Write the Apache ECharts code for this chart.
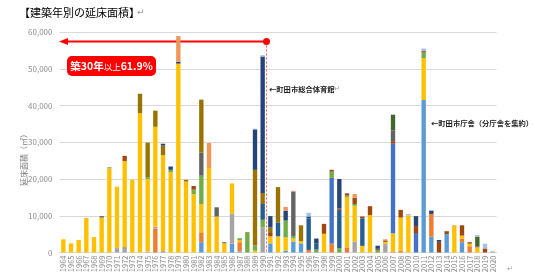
<!DOCTYPE html>
<html><head><meta charset="utf-8">
<script src="https://cdn.jsdelivr.net/npm/echarts@6/dist/echarts.min.js"></script>
<style>html,body{margin:0;padding:0;background:#fff}#c{width:535px;height:277px}</style>
</head><body><div id="c"></div>
<script>
const years = ['1964','1965','1966','1967','1968','1969','1970','1971','1972','1973','1974','1975','1976','1977','1978','1979','1980','1981','1982','1983','1984','1985','1986','1987','1988','1989','1990','1991','1992','1993','1994','1995','1996','1997','1998','1999','2000','2001','2002','2003','2004','2005','2006','2007','2008','2009','2010','2011','2012','2013','2014','2015','2016','2017','2018','2019','2020'];
const yTicks = [0,10000,20000,30000,40000,50000,60000];

const sLightBlue = [0,0,0,0,0,0,0,0,0,0, 0,0,0,0,0,0,0,0,2800,0, 0,0,2400,300,0,0,0,2500,0,500, 3000,2500,0,0,0,0,0,0,0,0, 0,0,0,0,0,0,0,41500,4300,0, 5000,0,2800,0,0,0,0];
const sOrange = [0,0,0,0,0,0,0,0,0,0, 0,0,6500,0,0,0,0,0,2700,0, 0,0,0,2500,0,0,0,0,0,0, 0,0,700,0,0,2400,0,1400,0,0, 0,0,0,300,500,0,0,0,6200,0, 0,0,1000,1700,0,0,0];
const sGray = [0,0,0,0,0,0,0,1200,1500,0, 0,300,500,400,0,0,0,0,0,0, 0,0,8200,0,0,0,6900,0,0,0, 0,0,0,0,0,0,0,0,3000,0, 0,0,2300,0,0,0,0,0,0,0, 0,0,0,0,0,0,300];
const sYellow = [3600,2500,3400,9400,4200,9500,22900,16700,23400,19800, 37900,19700,27200,26100,21900,51400,19300,15900,7700,23000, 9800,2500,8200,600,0,500,0,1900,4400,3600, 800,600,0,0,5100,0,0,13700,9700,1800, 10200,0,600,4900,9000,10100,0,11400,0,0, 0,7200,800,700,1400,0,0];
const sBlue = [0,0,0,0,0,0,0,0,0,0, 0,0,0,0,0,0,0,0,0,0, 0,0,0,0,0,0,0,0,0,0, 0,0,0,0,0,17900,0,0,0,0, 0,0,0,24400,0,0,5300,0,0,0, 0,0,0,0,0,0,0];
const sGreen = [0,0,0,0,0,0,300,0,0,0, 0,500,0,0,600,0,0,1200,7700,0, 0,0,0,500,5300,1400,2000,0,0,4600, 700,0,0,800,0,1700,1200,400,500,0, 0,700,0,0,0,0,0,1500,0,0, 0,0,0,0,0,0,0];
const sMidBlue = [0,0,0,0,0,0,0,0,0,0, 0,0,0,0,0,0,0,0,0,0, 0,0,0,0,0,0,4300,0,3800,0, 0,0,8600,1600,0,0,10400,0,0,7500, 0,0,0,0,0,0,0,0,0,0, 0,0,0,0,0,0,0];
const sBrown = [0,0,0,0,0,0,0,0,1400,0, 0,0,0,0,0,0,0,1000,0,0, 0,0,0,0,0,0,0,900,0,0, 0,0,0,0,2700,500,400,600,1700,500, 2400,300,400,500,2100,0,1900,400,0,2900, 800,0,2800,400,0,1100,0];
const sDarkGray = [0,0,0,0,0,400,0,0,0,0, 0,0,0,0,0,0,0,0,6300,0, 2500,300,0,0,0,0,0,0,0,0, 12100,0,0,0,0,0,0,0,0,0, 0,0,0,3100,0,0,0,0,0,0, 0,0,0,0,300,0,0];
const sOlive = [0,0,0,0,0,0,0,0,0,0, 5300,9400,4400,2600,0,0,500,0,14400,0, 0,0,0,0,200,20600,3000,1500,9600,0, 0,4300,0,0,0,0,0,0,0,0, 0,0,0,0,0,0,0,0,0,0, 0,0,0,0,0,0,0];
const sNavy = [0,0,0,0,0,0,0,0,0,0, 0,0,0,500,900,500,0,0,0,0, 0,0,0,0,0,11000,37100,3100,0,2700, 0,0,500,1400,0,0,8000,0,0,0, 0,800,0,0,0,0,2700,0,900,500, 0,0,0,0,0,0,0];
const sDarkGreen = [0,0,0,0,0,0,0,0,0,0, 0,0,0,0,0,0,0,0,0,0, 0,0,0,0,0,0,0,0,0,0, 0,0,0,0,0,0,0,0,0,0, 0,0,0,4300,0,0,0,0,0,0, 0,0,0,0,2600,0,0];
const sLightOrange = [0,0,0,0,0,0,0,0,0,0, 0,0,0,0,0,7000,0,0,0,6800, 0,0,0,0,0,0,0,0,0,1000, 200,0,0,0,0,0,0,0,1000,0, 0,0,300,0,0,0,0,0,0,0, 0,200,0,0,100,0,0];
const sPaleBlue = [0,0,0,0,0,0,0,0,0,0, 0,0,0,0,0,0,0,0,0,0, 0,0,0,0,0,200,400,0,0,0, 0,0,1000,0,0,0,0,0,0,0, 0,200,0,0,0,400,0,700,0,0, 0,0,0,0,400,1300,0];

const seriesList = [
  ['A', sLightBlue, '#5B9BD5'], ['B', sOrange, '#ED7D31'], ['C', sGray, '#A5A5A5'],
  ['D', sYellow, '#FFC000'], ['E', sBlue, '#4472C4'], ['F', sGreen, '#70AD47'],
  ['G', sMidBlue, '#255E91'], ['H', sBrown, '#9E480E'], ['I', sDarkGray, '#636363'],
  ['J', sOlive, '#997300'], ['K', sNavy, '#264478'], ['L', sDarkGreen, '#43682B'],
  ['M', sLightOrange, '#F1975A'], ['N', sPaleBlue, '#9DC3E6']
];

const FONT = '"Noto Sans CJK JP", "Noto Sans", sans-serif';
const chart = echarts.init(document.getElementById('c'), null, {renderer: 'canvas'});
const option = {
  animation: false,
  backgroundColor: '#fff',
  grid: {left: 59.5, right: 38.5, top: 32, bottom: 24.5, containLabel: false},
  xAxis: {
    type: 'category', data: years,
    axisLine: {show: true, lineStyle: {color: '#D9D9D9'}},
    axisTick: {show: false},
    axisLabel: {interval: 0, rotate: 90, fontSize: 7.5, color: '#8C8C8C', margin: 3, fontFamily: FONT}
  },
  yAxis: {
    type: 'value', min: 0, max: 60000, interval: 10000,
    axisLine: {show: false}, axisTick: {show: false},
    splitLine: {lineStyle: {color: '#D9D9D9', width: 1}},
    axisLabel: {fontSize: 8, color: '#8C8C8C', margin: 7, fontFamily: FONT,
      formatter: v => v.toLocaleString('en-US')}
  },
  series: seriesList.map(([n, d, c]) => ({
    name: n, type: 'bar', stack: 'total', data: d, barWidth: '57%',
    itemStyle: {color: c}
  }))
};
chart.setOption(option);

const x90 = chart.convertToPixel({xAxisIndex: 0}, '1990');
const x91 = chart.convertToPixel({xAxisIndex: 0}, '1991');
const xm = (x90 + x91) / 2;
const ya = chart.convertToPixel({yAxisIndex: 0}, 57400);
const y0 = chart.convertToPixel({yAxisIndex: 0}, 0);
const xl = 59;

chart.setOption({
  graphic: [
    {type: 'text', left: 19, top: 7, style: {text: '【建築年別の延床面積】', font: '11px ' + FONT, fill: '#000'}},
    {type: 'text', left: 137, top: 8, style: {text: '↵', font: '9px "DejaVu Sans"', fill: '#999'}},
    {type: 'text', x: 24, y: 158, rotation: Math.PI / 2, style: {text: '延床面積（㎡）', font: '8px ' + FONT, fill: '#7F7F7F', align: 'center', verticalAlign: 'middle'}},
    {type: 'line', shape: {x1: xm, y1: ya, x2: xm, y2: y0}, style: {stroke: '#FF5A5A', lineWidth: 1, lineDash: [2, 2]}},
    {type: 'line', shape: {x1: xl + 6, y1: ya, x2: xm, y2: ya}, style: {stroke: '#FF0000', lineWidth: 2}},
    {type: 'polygon', shape: {points: [[xl, ya], [xl + 9, ya - 3.5], [xl + 9, ya + 3.5]]}, style: {fill: '#FF0000'}},
    {type: 'circle', shape: {cx: xm, cy: ya, r: 3.5}, style: {fill: '#FF0000'}},
    {type: 'rect', shape: {x: 67, y: 56, width: 89, height: 20, r: 5}, style: {fill: '#FF0000'}},
    {type: 'text', x: 111.5, y: 66.5, style: {
      text: '{a|築30年}{b|以上}{a|61.9%}', align: 'center', verticalAlign: 'middle',
      rich: {a: {fontFamily: FONT, fontSize: 10.5, fontWeight: 'bold', fill: '#fff', color: '#fff'},
             b: {fontFamily: FONT, fontSize: 8.5, fill: '#fff', color: '#fff'}}}},
    {type: 'text', left: 269, top: 86, style: {text: '←町田市総合体育館', font: 'bold 7.3px ' + FONT, fill: '#222'}},
    {type: 'text', left: 334, top: 86, style: {text: '↵', font: '7px "DejaVu Sans"', fill: '#999'}},
    {type: 'text', left: 431, top: 120, style: {text: '←町田市庁舎（分庁舎を集約）', font: 'bold 7.3px ' + FONT, fill: '#222'}},
    {type: 'text', left: 507, top: 266, style: {text: '↵', font: '7px "DejaVu Sans"', fill: '#999'}}
  ]
});
</script></body></html>
